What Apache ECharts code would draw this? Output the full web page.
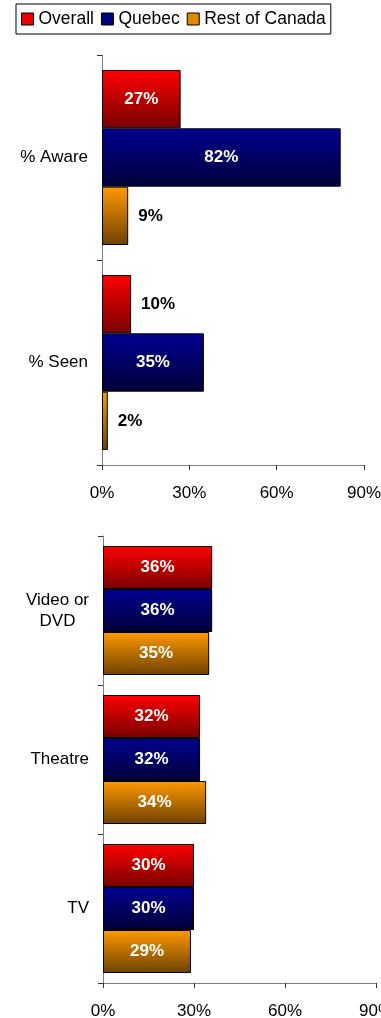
<!DOCTYPE html>
<html><head><meta charset="utf-8">
<style>html,body{margin:0;padding:0;background:#fff}#c{width:381px;height:1018px}</style>
<script src="https://cdn.jsdelivr.net/npm/echarts@6/dist/echarts.min.js"></script>
</head><body><div id="c"></div>
<script>
var seriesNames = ['Overall', 'Quebec', 'Rest of Canada'];
var topCategories = ['% Aware', '% Seen'];
var topOverall = [27, 10];
var topQuebec = [82, 35];
var topRest = [9, 2];
var bottomCategories = ['Video or\nDVD', 'Theatre', 'TV'];
var bottomOverall = [36, 32, 30];
var bottomQuebec = [36, 32, 30];
var bottomRest = [35, 34, 29];
var xTicks = [0, 30, 60, 90];

var FONT = 'Liberation Sans, Arial, sans-serif';
function grad(a, b) {
  return new echarts.graphic.LinearGradient(0, 0, 0, 1, [{offset: 0, color: a}, {offset: 1, color: b}]);
}
var fills = [grad('#ff0000', '#770000'), grad('#000090', '#000038'), grad('#ff9900', '#6e4200')];
var legendColors = ['#ee0000', '#000080', '#e08a00'];

var chart = echarts.init(document.getElementById('c'), null, {renderer: 'canvas'});

function xAxis(idx) {
  return {
    gridIndex: idx, type: 'value', min: xTicks[0], max: xTicks[xTicks.length - 1], interval: xTicks[1] - xTicks[0],
    axisLine: {show: true, lineStyle: {color: '#808080', width: 1}},
    axisTick: {show: true, length: 5, lineStyle: {color: '#333'}},
    splitLine: {show: false},
    axisLabel: {formatter: '{value}%', color: '#000', fontSize: 17, fontFamily: FONT, margin: 20, hideOverlap: false}
  };
}
function yAxis(idx, cats) {
  return {
    gridIndex: idx, type: 'category', data: cats, inverse: true,
    axisLine: {show: true, lineStyle: {color: '#808080', width: 1}},
    axisTick: {show: true, length: 5, inside: false, lineStyle: {color: '#333'}},
    axisLabel: {
      color: '#000', fontSize: 17, fontFamily: FONT, margin: 14, lineHeight: 21,
      formatter: function (v) {
        if (v.indexOf('\n') >= 0) {
          return v.split('\n').map(function (s) { return '{c|' + s + '}'; }).join('\n');
        }
        return v;
      },
      rich: {c: {align: 'center', fontSize: 17, fontFamily: FONT, color: '#000', lineHeight: 21}}
    }
  };
}

function labelFor(vals, threshold) {
  return vals.map(function (v) {
    var inside = v >= threshold;
    return {
      value: v,
      label: inside ? {position: 'inside', color: '#fff'} : {position: 'right', color: '#000', distance: 10}
    };
  });
}

function mkSeries(idx, name, vals, fill, threshold, gap) {
  return {
    name: name, type: 'bar', xAxisIndex: idx, yAxisIndex: idx,
    barGap: '0%', barCategoryGap: gap,
    data: labelFor(vals, threshold),
    itemStyle: {color: fill, borderColor: '#000', borderWidth: 1},
    label: {show: true, formatter: '{c}%', fontSize: 17, fontWeight: 'bold', fontFamily: FONT},
    emphasis: {disabled: true},
    animation: false
  };
}

chart.setOption({
  animation: false,
  legend: {
    data: seriesNames.map(function (n, i) {
      return {name: n, itemStyle: {color: legendColors[i], borderColor: '#000', borderWidth: 1}};
    }),
    left: 16, top: 4,
    padding: [5, 5, 5, 5],
    itemGap: 7, itemWidth: 12, itemHeight: 12,
    icon: 'rect',
    borderColor: '#000', borderWidth: 1,
    textStyle: {fontSize: 17.5, fontFamily: FONT, color: '#000', lineHeight: 20}
  },
  grid: [
    {left: 102, right: 17, top: 55, bottom: 553, containLabel: false, outerBoundsMode: 'none'},
    {left: 103, right: 5, top: 536, bottom: 35, containLabel: false, outerBoundsMode: 'none'}
  ],
  xAxis: [xAxis(0), xAxis(1)],
  yAxis: [yAxis(0, topCategories), yAxis(1, bottomCategories)],
  series: [
    mkSeries(0, seriesNames[0], topOverall, fills[0], 20, '14.6%'),
    mkSeries(0, seriesNames[1], topQuebec, fills[1], 20, '14.6%'),
    mkSeries(0, seriesNames[2], topRest, fills[2], 20, '14.6%'),
    mkSeries(1, seriesNames[0], bottomOverall, fills[0], 20, '13.4%'),
    mkSeries(1, seriesNames[1], bottomQuebec, fills[1], 20, '13.4%'),
    mkSeries(1, seriesNames[2], bottomRest, fills[2], 20, '13.4%')
  ]
});
</script></body></html>
